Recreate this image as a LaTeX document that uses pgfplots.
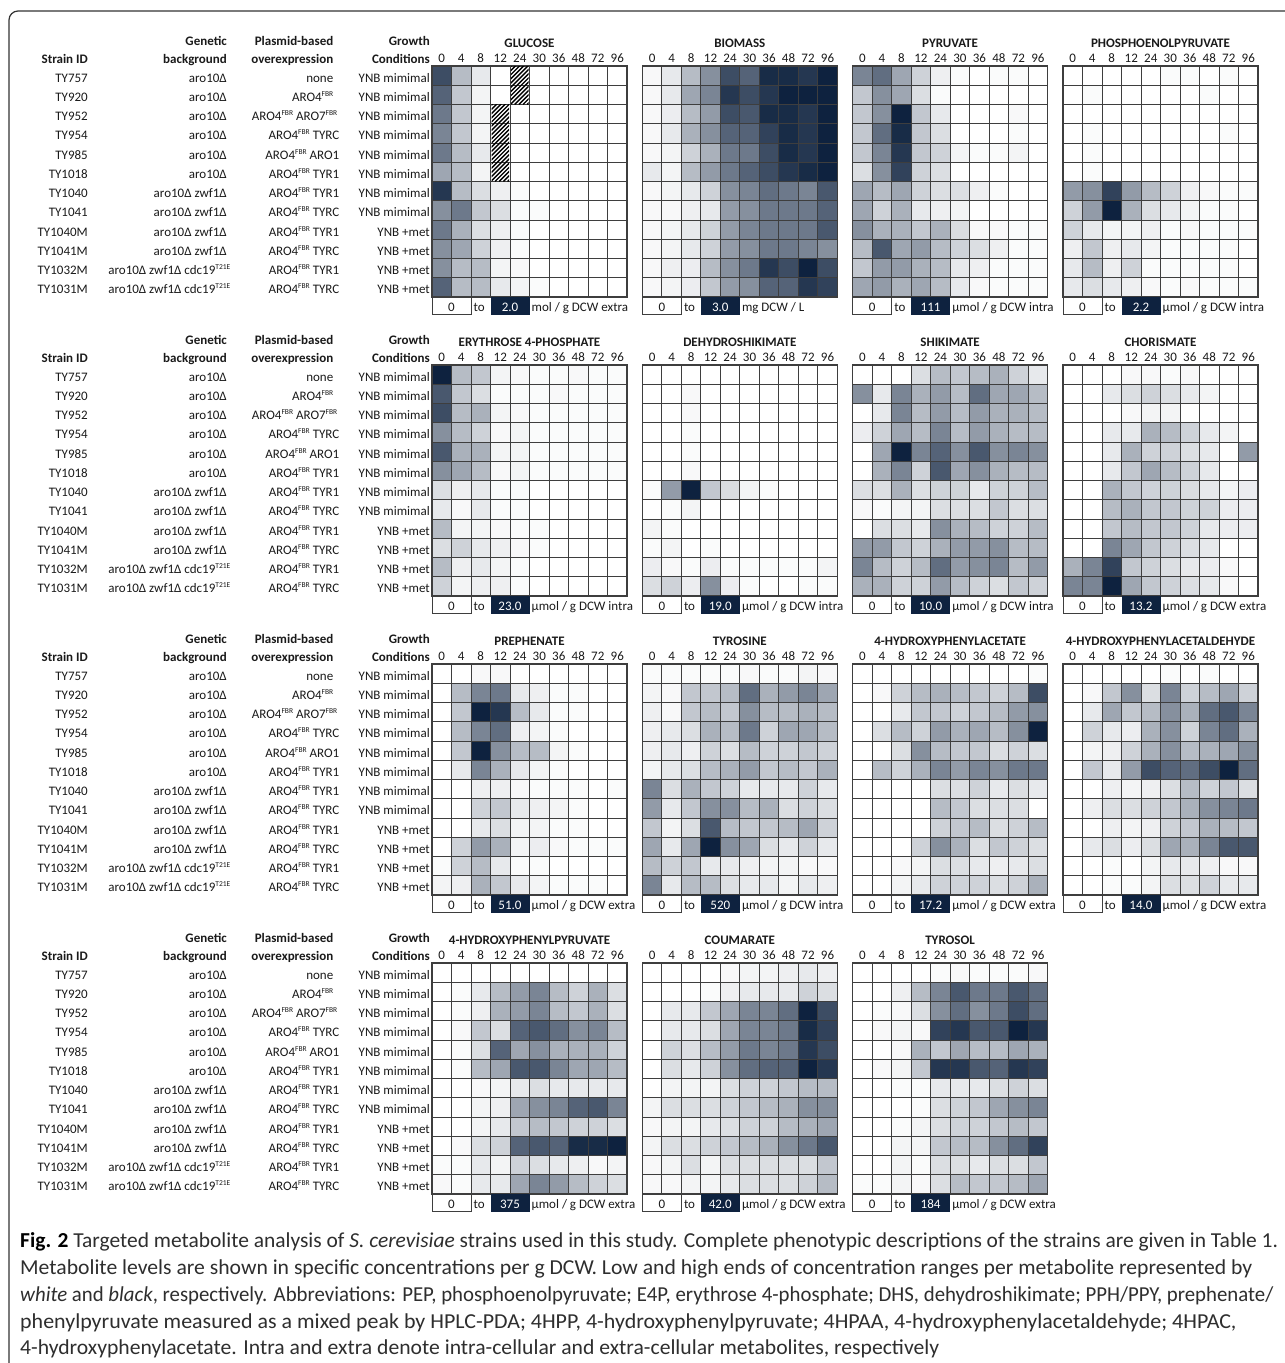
\documentclass[border=0pt]{standalone}
\usepackage{pgfplots}
\pgfplotsset{compat=1.18}
\usepackage{pgfplotstable}
\usepackage{fontspec}
\setmainfont{Carlito}
\definecolor{cellline}{HTML}{3E3E3E}
\definecolor{navy}{HTML}{0E223F}
\definecolor{txt}{HTML}{1A1A1A}
\definecolor{captext}{HTML}{2E2E2E}
\pgfplotsset{colormap={navymap}{rgb255=(255,255,255) rgb255=(14,34,63)}}
\pgfdeclareplotmark{cell}{\pgfpathrectangle{\pgfqpoint{-9.75pt}{-9.625pt}}{\pgfqpoint{19.5pt}{19.25pt}}\pgfusepathqfillstroke}
\newcommand\fs{\fontsize{13pt}{15pt}\selectfont}
\newcommand\bfs{\fontsize{13pt}{15pt}\selectfont\bfseries}
\newcommand\cfs{\fontsize{21.3pt}{24pt}\selectfont}
\newcommand\sps[1]{\raisebox{5pt}{\fontsize{7.5pt}{8pt}\selectfont #1}}

% ---------------- data (0 = white ... 10 = darkest) ----------------
\pgfplotstableread{
r c0 c1 c2 c3 c4 c5 c6 c7 c8 c9
0 8 3 1 0 0 0 0 0 0 0
1 7 2.5 0.5 0 0 0 0 0 0 0
2 6 2.5 0.5 0 0 0 0 0 0 0
3 5.5 2.5 0.5 0 0 0 0 0 0 0
4 6 3 1 0 0 0 0 0 0 0
5 4 3 0.5 0 0 0 0 0 0 0
6 9 3 1.5 0.7 0.2 0 0 0 0 0
7 5 6 2.5 1.5 0.2 0.2 0 0 0 0
8 6 3.5 1.5 0.7 0.2 0 0 0 0 0
9 5 4 2 0.7 0.2 0 0 0 0 0
10 5 3 3 0.5 0.3 0 0 0 0 0
11 7 3 3 1 0.5 0.2 0 0 0 0
}\tGlu
\pgfplotstableread{
r c0 c1 c2 c3 c4 c5 c6 c7 c8 c9
0 0.3 1 3 5 8 7 9.5 9.5 9 10
1 0.3 1 4 5.5 9 8 9 10 10 10
2 0.3 0.8 3 4.5 8 7.5 9.5 9.5 9 10
3 0.3 1 3.5 5 7 7 8.5 9.5 9 10
4 0.3 0.5 2 3.5 6 6 8 9.5 9 10
5 1 0.5 3 4.5 6 7 8 9 9.5 10
6 0.3 0.5 1 2 5 5.5 6.5 6 5.5 7.5
7 0.3 0.3 0.7 1 4.5 5 6 6 6 7
8 0.3 0.5 1 2 4.5 5.5 6 6 6 7.5
9 0.3 0.5 1 2 4.5 5 6 6 5.5 5
10 0.3 0.7 0.8 3 5 6 9 8 10 8
11 0.3 0.5 0.8 2.5 4.5 5 7 7 9 8.5
}\tBio
\pgfplotstableread{
r c0 c1 c2 c3 c4 c5 c6 c7 c8 c9
0 5.5 6.5 4 2 0.7 0.2 0 0.2 0.2 0
1 2.5 5 4 1.5 0.2 0 0 0 0 0
2 2.5 5 10 2.5 1 0 0 0 0.3 0
3 2.5 6.5 9.5 2.5 1.5 0 0 0 0.2 0
4 2.5 5.5 9 2.5 2 0.5 0.2 0.2 0.5 0
5 1.5 5 8.5 2 1.5 0 0 0 0 0
6 4 3 4 2 1.5 1.5 0.7 0.2 0 0
7 4 2 3.5 1 0.7 0.5 0 0 0 0
8 5 3.5 3.5 2.5 3.5 1.5 0.3 0.3 0.2 0.2
9 3 7.5 4 4.5 3 2 1.5 0.7 0.2 0.2
10 2.5 4.5 4.5 3.5 3 1 0.7 0.2 0.2 0.2
11 4 4.5 3.5 4 3 1 0.3 0.2 0.2 0.2
}\tPyr
\pgfplotstableread{
r c0 c1 c2 c3 c4 c5 c6 c7 c8 c9
0 0 0 0 0 0 0.2 0.2 0 0.2 0
1 0 0.2 0 0 0 0 0 0.2 0 0
2 0 0 0 0 0 0 0 0 0 0
3 0 0.2 0 0 0 0 0 0 0.2 0
4 0 0.2 0 0 0 0 0 0 0 0
5 0 0.2 0 0 0 0 0 0 0 0
6 4.5 5 8.5 4.5 3 2 0.7 0.3 0.2 0.2
7 2 4.5 10 3.5 1.5 1 0.5 0.2 0.2 0
8 2 1 0.5 0.5 0.7 0.2 0.3 0.2 0.2 0.2
9 0.7 2.5 0.7 1 0.5 0.2 0.2 0.2 0.2 0
10 1 3 0.7 2 0.2 0.2 0.2 0.2 0.2 0
11 1 1.5 1 0.7 0.3 0.2 0.3 0.2 0.2 0.2
}\tPep
\pgfplotstableread{
r c0 c1 c2 c3 c4 c5 c6 c7 c8 c9
0 10 3 2.5 0.5 0.3 0.2 0.2 0.3 0.2 0.2
1 7.5 2.5 1.5 0.2 0.2 0.2 0.3 0.2 0.2 0.2
2 8 3 3.5 0.5 0.3 0.2 0.2 0.2 0.2 0.2
3 5 3 2 0.3 0.5 0.2 0.2 0.2 0.2 0.2
4 7.5 3.5 3.5 0.5 0.5 0.2 0.2 0.2 0.2 0.2
5 5 4 3 0.3 0.5 0.2 0.2 0.2 0.2 0.2
6 1.5 0.7 1 0.2 0.2 0 0 0 0 0
7 1 0.3 1 0.2 0.2 0 0 0 0 0
8 3 0.5 0.5 0.3 0.2 0.2 0 0 0 0
9 1.5 2 1 0.7 0.3 0.2 0 0 0 0
10 3 0.7 1 0.5 0.2 0 0 0 0 0
11 2 0.5 0.7 0.7 0.2 0 0 0 0 0
}\tEfp
\pgfplotstableread{
r c0 c1 c2 c3 c4 c5 c6 c7 c8 c9
0 0 0 0 0 0 0 0 0 0 0
1 0 0 0.3 0 0 0 0 0 0 0
2 0 0 0.3 0 0 0 0 0 0 0
3 0 0 0.2 0 0 0 0 0 0 0
4 0 0 0.2 0 0 0 0 0 0 0
5 0 0 0.3 0 0 0 0 0 0 0
6 0.2 4.5 10 2.5 1.5 0.5 0.2 0 0 0
7 0 0.2 0.5 0 0 0 0 0 0 0
8 0.5 0.2 0 0 0 0 0 0 0 0
9 0.2 0.5 0 0.2 0 0 0 0 0 0
10 0.8 0.3 0.2 0.8 0.2 0.2 0.2 0.2 0.2 0.5
11 1.5 2 0.8 5 0.8 0.2 0 0 0.2 0.2
}\tDhs
\pgfplotstableread{
r c0 c1 c2 c3 c4 c5 c6 c7 c8 c9
0 0 0 0 1.5 3 2.5 3 3.5 2 1
1 5 1 5.5 3.5 4.5 3 6.5 4 4 3
2 0 1 5.5 3 4.5 3 4.5 3.5 3.5 3
3 0.8 2 4 3 5.5 3 4.5 3.5 3 3
4 0 4 10 5.5 7 5 7.5 5 5.5 5
5 0 3.5 5.5 2 7.5 4 5 3.5 3 3
6 1.5 1.5 3.5 1.5 2 2 1 2 2 3
7 0.3 0.2 0.5 0.5 1.5 1.5 1.5 2.5 1.5 1.5
8 0 1.5 1.5 1 5 3.5 3 2 2 3
9 4.5 4.5 2.5 2 3.5 4.5 4.5 5 3 3
10 5.5 3 2 3 6.5 4.5 5 5.5 3 4.5
11 3.5 3.5 2 2 4.5 3 2 1.5 2.5 2
}\tShi
\pgfplotstableread{
r c0 c1 c2 c3 c4 c5 c6 c7 c8 c9
0 0 0 0 0.3 0.3 0.2 0.3 0 0 0
1 0 0 1 1.5 2 1.5 1 0.5 0 0
2 0 0 0 0.3 0.5 0.5 0 0 0 0
3 0 0 1 1 3.5 3 2 1 0.5 0
4 0 0 1 3.5 2 2 1.5 1 0 4.5
5 0 0 1 2.5 4 3 2 1 0 0
6 0 0 3.5 2.5 2 2 1.5 1 0.5 0.8
7 0 0 3 3.5 2.5 2.5 2 2 0.8 0.8
8 0 0 2.5 3 2.5 2.5 2 1 0.8 0.8
9 0 0 5.5 4 2.5 2 1.5 1 0 0
10 3.5 5.5 8.5 2.5 2 1.5 1 0.8 0.3 0
11 5.5 5.5 10 4 2.5 2 1.5 1 0.3 0
}\tCho
\pgfplotstableread{
r c0 c1 c2 c3 c4 c5 c6 c7 c8 c9
0 0 0 0.3 0.3 0 0 0 0 0 0
1 0 3 5.5 6 1 0.7 0.2 0.2 0 0
2 0 2.5 10 9 3 1 0.2 0.2 0 0
3 0 3 5.5 6.5 0.7 0.5 0.2 0 0 0
4 0 2.5 10 5 3 3 0.5 0.2 0 0
5 0 1 5.5 3.5 1 0.5 0.2 0 0 0
6 0 0 0.7 0.7 0.3 0.2 0.2 0.2 0 0.2
7 0 0 2 2.5 1 0.7 0.5 0.2 0 0
8 0 0 1 1.5 0.5 0.5 0.2 0.2 0 0
9 0 2 4.5 3.5 0.5 0.8 0.3 0.2 0.2 0.2
10 0.2 2 3 1 0.2 0.2 0 0 0 0
11 0.5 0.7 3.5 2.5 1 0.5 0.2 0.2 0.2 0
}\tPre
\pgfplotstableread{
r c0 c1 c2 c3 c4 c5 c6 c7 c8 c9
0 0.2 0.2 0.2 0.2 0.2 0.3 0.2 0.2 0.5 0.3
1 0.5 0.3 2.5 2.5 3 6.5 3.5 4.5 5.5 4
2 0.7 0.3 2.5 3 2.5 5 3 3 3.5 3
3 0.7 1 1.5 3.5 3 6 2 4 4 3
4 0.7 1 0.7 2 1.5 3 2 2 2.5 2
5 0.5 1 1.5 3 3.5 4.5 2.5 3 2.5 3.5
6 5.5 1.5 3.5 2.5 2 1 1 1 2 1
7 4.5 1 2.5 5 5 3 3.5 1.5 2 1.5
8 2.5 0.5 1.5 7.5 3 2.5 2.5 3 4 2
9 4 1 4 10 5 4 1.5 1 2 1
10 3 2 2.5 1 1 0.7 0.5 0.5 0.3 0.3
11 5.5 1 3 3 1.5 1 1 0.5 1 0.7
}\tTyr
\pgfplotstableread{
r c0 c1 c2 c3 c4 c5 c6 c7 c8 c9
0 0 0 0 0 0 0 0 0 0 0.2
1 0 0.3 2 3 3.5 3 2.5 2 3 8
2 0 0 1 2.5 2.5 2 2.5 3 4.5 5
3 0 1.5 3 2 4.5 3.5 4 3 5 10
4 0 0 1.5 5 3 2.5 2.5 1.5 2 1.5
5 0 3 2 3.5 5.5 4.5 5.5 5 6 6
6 0 0 0 0 1.5 1.5 2 1 1.5 1
7 0 0 0 0 3 2.5 1.5 1.5 1.5 0
8 0 0 0 0 2 2.5 3 1.5 2 3
9 0 0 0 2 5 3.5 1.5 2.5 2 1.5
10 0 0 0.3 0.5 1.5 1.5 1 0.7 1 1.5
11 0 0 0.5 1 2 2 2 1.5 2 3.5
}\tHpac
\pgfplotstableread{
r c0 c1 c2 c3 c4 c5 c6 c7 c8 c9
0 0 0 0 0 0 0.2 0 0.2 0 0
1 0 0.3 2.5 5 1.5 5.5 2 3 4 2
2 0 1 4 2.5 3 5 3.5 6.5 7.5 5.5
3 0 2 1 0.8 3.5 5 2 5.5 6.5 3.5
4 0 0.5 0.7 2 3.5 5 3 3.5 4 5
5 0 2.5 1 4.5 8 7 6.5 8 10 6.5
6 0 0 0.7 0.5 0.7 1.5 3 2 2.5 1.5
7 0 0.7 1.5 1.5 2 2.5 3.5 5 5.5 6
8 0 0 0.7 0.5 0.7 2 2.5 3.5 3 2.5
9 0 1 1.5 0.8 1.5 4 3.5 5.5 7.5 7.5
10 0 0 0.2 0 0.5 1 1 0.7 0.3 0.3
11 0 0 0.2 0.2 0.5 1.5 1.5 2 1 1
}\tHpaa
\pgfplotstableread{
r c0 c1 c2 c3 c4 c5 c6 c7 c8 c9
0 0 0 0 0 0 0 0 0 0 0
1 0 0.2 1 3 4.5 5.5 3 2 3.5 1.5
2 0 0.2 0.7 3.5 4.5 5.5 3 2.5 3.5 1.5
3 0 0.3 2.5 1.5 7 7.5 6.5 5 5.5 3
4 0 0.2 1.5 7 4 5 3.5 3.5 3.5 2
5 0 0.2 3 4 7.5 7.5 5.5 4 4 3
6 0 0 0.3 0.5 1 1.5 1 1 1 1
7 0 0 0.5 0.7 4 5 5.5 7 7.5 5.5
8 0 0 0.5 1 2.5 3 2.5 2 2 1.5
9 0 0.3 1.5 2 7 7.5 7 9.5 9.5 10
10 0.2 0.2 1 0.5 2 1.5 1 0.7 0.3 0.5
11 0.3 0.2 1 1 4 5.5 4.5 3 2 1.5
}\tHpp
\pgfplotstableread{
r c0 c1 c2 c3 c4 c5 c6 c7 c8 c9
0 0 0 0 0 0.3 0.5 0.5 0.7 1 0.7
1 0 0 0 0.2 0.7 1 1 1 2 1.5
2 0 1 1 2.5 4 5.5 5.5 6.5 10 8
3 0 1 1 1.5 4 5.5 5.5 6 9.5 8.5
4 0 2 1.5 3 4.5 6 5.5 6 9 8
5 0 1.5 1 2 5 6.5 7 7 10 9
6 0 0.5 0.5 0.5 1.5 2 2 2.5 3 3
7 0.5 1.5 1.5 1.5 2 2.5 3 3.5 5 5
8 0.3 0.5 0.5 1 1.5 2 2 3 3.5 4
9 0.5 1.5 1.5 2 2.5 3 3.5 5 6 7.5
10 0.3 0.5 1.5 0.5 1.5 1.5 1.5 1.5 1.5 2.5
11 0.3 0.3 0.5 0.5 1 1.5 1.5 1.5 2 3
}\tCou
\pgfplotstableread{
r c0 c1 c2 c3 c4 c5 c6 c7 c8 c9
0 0 0 0 0 0.2 0.3 0.2 0.2 0.2 0.3
1 0 0 0.7 3 5.5 7.5 6 6 7.5 6.5
2 0 0.2 0.3 1.5 5 6.5 5 6 8 6.5
3 0 0.3 0.5 0.3 8.5 9 7.5 7.5 10 9
4 0 0 0.3 3.5 2.5 4 3 3 4 3.5
5 0 0.3 0.5 2.5 9 9 7.5 7 9 8.5
6 0 0 0.2 0.2 1 1 1 1.5 2 1.5
7 0 0 0 0.2 1.5 2 2.5 4 5 5.5
8 0 0 0.2 0.5 1.5 2 2 2.5 3 2.5
9 0 0 0.5 0.5 2.5 3 3 5 6.5 8.5
10 0 0 0.5 0.2 1.5 1.5 1 1.5 1.5 2.5
11 0.2 0.2 0.5 0.3 1.5 3 2.5 2.5 3 4
}\tTyl

% ---------------- macros ----------------
\newcommand\panel[7]{%
  \begin{axis}[at={(#1pt,-#2pt)}, anchor=north west, scale only axis,
    width=195pt, height=231pt, xmin=-0.5, xmax=9.5, ymin=-0.5, ymax=11.5,
    y dir=reverse, hide axis, clip=false, colormap name=navymap,
    point meta min=0, point meta max=10]
    \pgfplotsinvokeforeach{0,...,9}{%
      \addplot[scatter, only marks, mark=cell, point meta=explicit,
        scatter/use mapped color={draw=cellline, fill=mapped color},
        mark options={line width=0.9pt}]
        table[x expr=##1, y=r, meta=c##1] {#3};
    }%
    #7
  \end{axis}
  \begin{scope}[x=1pt,y=1pt]
  \draw[cellline, line width=1.3pt] (#1,-#2) rectangle ({#1+195},{-(#2+231)});
  \node[font=\bfs, text=txt, anchor=base, inner sep=0pt] at ({#1+97.5},{-(#2-19)}) {#4};
  \foreach \l [count=\i from 0] in {0,4,8,12,24,30,36,48,72,96}
    \node[font=\fs, text=txt, anchor=base, inner sep=0pt] at ({#1+19.5*\i+9.75},{-(#2-3.5)}) {\l};
  % scale bar
  \draw[cellline, line width=0.9pt, fill=white] (#1,{-(#2+231)}) rectangle ({#1+39},{-(#2+248.5)});
  \node[font=\fs, text=txt, anchor=base, inner sep=0pt] at ({#1+19.5},{-(#2+245)}) {0};
  \node[font=\fs, text=txt, anchor=base west, inner sep=0pt] at ({#1+41.5},{-(#2+245)}) {to};
  \fill[navy] ({#1+58.5},{-(#2+231)}) rectangle ({#1+97.5},{-(#2+248.5)});
  \node[font=\fs, text=white, anchor=base, inner sep=0pt] at ({#1+78},{-(#2+245)}) {#5};
  \node[font=\fs, text=txt, anchor=base west, inner sep=0pt] at ({#1+99.5},{-(#2+245)}) {#6};
  \end{scope}
}

\newcommand\leftblock[1]{%
  \begin{scope}[x=1pt,y=1pt]
  \node[font=\bfs, text=txt, anchor=base east, inner sep=0pt] at (88,{-(#1-2.5)}) {Strain ID};
  \node[font=\bfs, text=txt, anchor=base east, inner sep=0pt] at (227,{-(#1-21)}) {Genetic};
  \node[font=\bfs, text=txt, anchor=base east, inner sep=0pt] at (227,{-(#1-2.5)}) {background};
  \node[font=\bfs, text=txt, anchor=base east, inner sep=0pt] at (333.5,{-(#1-21)}) {Plasmid-based};
  \node[font=\bfs, text=txt, anchor=base east, inner sep=0pt] at (333.5,{-(#1-2.5)}) {overexpression};
  \node[font=\bfs, text=txt, anchor=base east, inner sep=0pt] at (430,{-(#1-21)}) {Growth};
  \node[font=\bfs, text=txt, anchor=base east, inner sep=0pt] at (430,{-(#1-2.5)}) {Conditions};
  \foreach \s [count=\r from 0] in {TY757,TY920,TY952,TY954,TY985,TY1018,TY1040,TY1041,TY1040M,TY1041M,TY1032M,TY1031M}
    \node[font=\fs, text=txt, anchor=base east, inner sep=0pt] at (88,{-(#1+19.25*\r+16)}) {\s};
  \foreach \s/\xx [count=\r from 0] in {aro10Δ/227,aro10Δ/227,aro10Δ/227,aro10Δ/227,aro10Δ/227,aro10Δ/227,aro10Δ zwf1Δ/227,aro10Δ zwf1Δ/227,aro10Δ zwf1Δ/227,aro10Δ zwf1Δ/227,aro10Δ zwf1Δ cdc19\sps{T21E}/230.5,aro10Δ zwf1Δ cdc19\sps{T21E}/230.5}
    \node[font=\fs, text=txt, anchor=base east, inner sep=0pt] at (\xx,{-(#1+19.25*\r+16)}) {\s};
  \foreach \s/\xx [count=\r from 0] in {none/333.5,ARO4\sps{FBR}/333.5,ARO4\sps{FBR} ARO7\sps{FBR}/337.5,ARO4\sps{FBR} TYRC/339.5,ARO4\sps{FBR} ARO1/339.5,ARO4\sps{FBR} TYR1/339.5,ARO4\sps{FBR} TYR1/339.5,ARO4\sps{FBR} TYRC/339.5,ARO4\sps{FBR} TYR1/339.5,ARO4\sps{FBR} TYRC/339.5,ARO4\sps{FBR} TYR1/339.5,ARO4\sps{FBR} TYRC/339.5}
    \node[font=\fs, text=txt, anchor=base east, inner sep=0pt] at (\xx,{-(#1+19.25*\r+16)}) {\s};
  \foreach \s [count=\r from 0] in {YNB mimimal,YNB mimimal,YNB mimimal,YNB mimimal,YNB mimimal,YNB mimimal,YNB mimimal,YNB mimimal,YNB +met,YNB +met,YNB +met,YNB +met}
    \node[font=\fs, text=txt, anchor=base east, inner sep=0pt] at (430,{-(#1+19.25*\r+16)}) {\s};
  \end{scope}
}
\newcommand\capline[3]{\node[font=\cfs, text=captext, anchor=base west, inner sep=0pt] at (20,-#1) {\resizebox{#2pt}{\height}{#3}};}

\begin{document}
\begin{tikzpicture}
\useasboundingbox (0pt,0pt) rectangle (1285pt,-1363pt);
\fill[white] (0pt,0pt) rectangle (1285pt,-1363pt);
\draw[line width=1.2pt, black!80, rounded corners=9pt] (9pt,-11pt) rectangle (1320pt,-1385pt);

\leftblock{66}
\leftblock{365}
\leftblock{664}
\leftblock{963}

\panel{432}{66}{\tGlu}{GLUCOSE}{2.0}{mol / g DCW extra}{%
  \addplot[draw=white, line width=1pt, fill=white, forget plot]
    coordinates {(3.5,-0.5) (4.5,-0.5) (4.5,1.5) (3.5,1.5) (3.5,-0.5)};
  \addplot[draw=white, line width=1pt, fill=white, forget plot]
    coordinates {(2.5,1.5) (3.5,1.5) (3.5,5.5) (2.5,5.5) (2.5,1.5)};
}
% hatching of the glucose cells that were not measured
\begin{scope}[x=1pt,y=1pt]
  \begin{scope}
    \clip (491.5,-104.5) rectangle (509,-181.5);
    \foreach \k in {0,...,45} \draw[black, line width=1.4pt] ({411+4.2*\k},-181.5) -- ++(100,100);
  \end{scope}
  \begin{scope}
    \clip (511,-66.5) rectangle (528.5,-104.5);
    \foreach \k in {0,...,25} \draw[black, line width=1.4pt] ({460+4.2*\k},-104.5) -- ++(60,60);
  \end{scope}
\end{scope}
\panel{642.3}{66}{\tBio}{BIOMASS}{3.0}{mg DCW / L}{}
\panel{852.6}{66}{\tPyr}{PYRUVATE}{111}{µmol / g DCW intra}{}
\panel{1063}{66}{\tPep}{PHOSPHOENOLPYRUVATE}{2.2}{µmol / g DCW intra}{}

\panel{432}{365}{\tEfp}{ERYTHROSE 4-PHOSPHATE}{23.0}{µmol / g DCW intra}{}
\panel{642.3}{365}{\tDhs}{DEHYDROSHIKIMATE}{19.0}{µmol / g DCW intra}{}
\panel{852.6}{365}{\tShi}{SHIKIMATE}{10.0}{µmol / g DCW intra}{}
\panel{1063}{365}{\tCho}{CHORISMATE}{13.2}{µmol / g DCW extra}{}

\panel{432}{664}{\tPre}{PREPHENATE}{51.0}{µmol / g DCW extra}{}
\panel{642.3}{664}{\tTyr}{TYROSINE}{520}{µmol / g DCW intra}{}
\panel{852.6}{664}{\tHpac}{4-HYDROXYPHENYLACETATE}{17.2}{µmol / g DCW extra}{}
\panel{1063}{664}{\tHpaa}{4-HYDROXYPHENYLACETALDEHYDE}{14.0}{µmol / g DCW extra}{}

\panel{432}{963}{\tHpp}{4-HYDROXYPHENYLPYRUVATE}{375}{µmol / g DCW extra}{}
\panel{642.3}{963}{\tCou}{COUMARATE}{42.0}{µmol / g DCW extra}{}
\panel{852.6}{963}{\tTyl}{TYROSOL}{184}{µmol / g DCW extra}{}

% caption
\begin{scope}[x=1pt,y=1pt]
\capline{1247}{1258}{\textbf{\color{black}Fig. 2} Targeted metabolite analysis of \textit{S. cerevisiae} strains used in this study. Complete phenotypic descriptions of the strains are given in Table 1.}
\capline{1274}{1232}{Metabolite levels are shown in specific concentrations per g DCW. Low and high ends of concentration ranges per metabolite represented by}
\capline{1301}{1253}{\textit{white} and \textit{black}, respectively. Abbreviations: PEP, phosphoenolpyruvate; E4P, erythrose 4-phosphate; DHS, dehydroshikimate; PPH/PPY, prephenate/}
\capline{1328}{1216}{phenylpyruvate measured as a mixed peak by HPLC-PDA; 4HPP, 4-hydroxyphenylpyruvate; 4HPAA, 4-hydroxyphenylacetaldehyde; 4HPAC,}
\capline{1354}{919}{4-hydroxyphenylacetate. Intra and extra denote intra-cellular and extra-cellular metabolites, respectively}
\end{scope}
\end{tikzpicture}
\end{document}
